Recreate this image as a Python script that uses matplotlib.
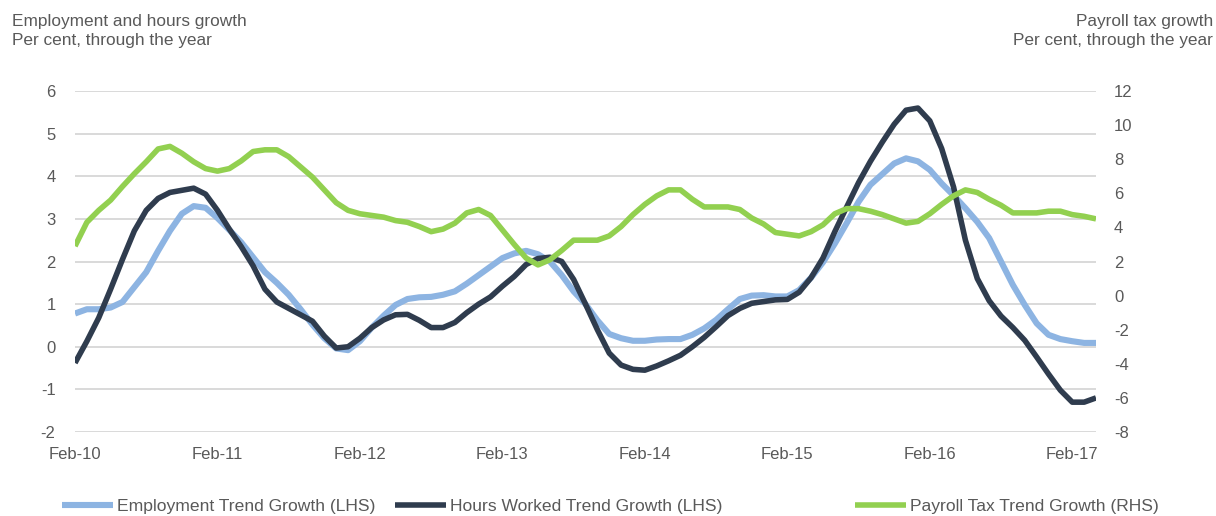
import numpy as np
import matplotlib
matplotlib.use("Agg")
import matplotlib.pyplot as plt

# monthly data, Feb-10 .. Apr-17
tick_labels = ["Feb-10", "Feb-11", "Feb-12", "Feb-13", "Feb-14", "Feb-15", "Feb-16", "Feb-17"]

employment = [0.78, 0.88, 0.88, 0.92, 1.05, 1.40, 1.75, 2.25, 2.72, 3.12, 3.30, 3.26,
              3.02, 2.74, 2.45, 2.10, 1.75, 1.50, 1.22, 0.88, 0.52, 0.20, -0.04, -0.08,
              0.13, 0.45, 0.73, 0.98, 1.12, 1.16, 1.17, 1.22, 1.30, 1.48, 1.68, 1.88,
              2.08, 2.19, 2.25, 2.17, 2.00, 1.68, 1.30, 1.00, 0.62, 0.30, 0.20, 0.14,
              0.14, 0.17, 0.18, 0.18, 0.28, 0.43, 0.63, 0.88, 1.12, 1.20, 1.21, 1.18,
              1.18, 1.33, 1.62, 1.98, 2.42, 2.90, 3.40, 3.80, 4.05, 4.30, 4.42, 4.35,
              4.15, 3.83, 3.55, 3.25, 2.93, 2.55, 2.00, 1.45, 0.98, 0.55, 0.28, 0.18,
              0.13, 0.09, 0.09]

hours = [-0.38, 0.13, 0.68, 1.35, 2.05, 2.72, 3.20, 3.48, 3.62, 3.67, 3.72, 3.58,
         3.20, 2.76, 2.35, 1.90, 1.35, 1.05, 0.90, 0.75, 0.60, 0.25, -0.03, 0.00,
         0.20, 0.45, 0.63, 0.75, 0.76, 0.62, 0.45, 0.45, 0.57, 0.80, 1.00, 1.17,
         1.42, 1.65, 1.93, 2.07, 2.10, 2.00, 1.58, 1.00, 0.40, -0.15, -0.43, -0.53,
         -0.55, -0.45, -0.33, -0.20, 0.00, 0.22, 0.47, 0.73, 0.90, 1.02, 1.06, 1.10,
         1.11, 1.28, 1.62, 2.08, 2.70, 3.28, 3.85, 4.35, 4.80, 5.22, 5.55, 5.60,
         5.30, 4.65, 3.75, 2.50, 1.60, 1.08, 0.72, 0.45, 0.15, -0.24, -0.64, -1.02,
         -1.30, -1.30, -1.20]

payroll = [2.90, 4.30, 5.00, 5.60, 6.40, 7.15, 7.85, 8.60, 8.75, 8.35, 7.85, 7.45,
           7.30, 7.45, 7.90, 8.45, 8.55, 8.55, 8.15, 7.55, 6.95, 6.20, 5.45, 5.00,
           4.80, 4.70, 4.60, 4.40, 4.30, 4.05, 3.75, 3.90, 4.25, 4.85, 5.05, 4.70,
           3.85, 3.00, 2.20, 1.80, 2.10, 2.65, 3.25, 3.25, 3.25, 3.50, 4.05, 4.75,
           5.35, 5.85, 6.20, 6.20, 5.65, 5.20, 5.20, 5.20, 5.05, 4.55, 4.20, 3.70,
           3.60, 3.50, 3.75, 4.15, 4.80, 5.10, 5.10, 4.95, 4.75, 4.50, 4.25, 4.35,
           4.80, 5.35, 5.85, 6.20, 6.05, 5.65, 5.30, 4.85, 4.85, 4.85, 4.95, 4.95,
           4.75, 4.65, 4.50]

TEXT = "#595959"
plt.rcParams["font.family"] = ["Liberation Sans", "DejaVu Sans"]
plt.rcParams["axes.unicode_minus"] = False

fig = plt.figure(figsize=(12.16, 5.16), dpi=100)
ax = fig.add_axes([75 / 1216, 1 - 432 / 516, (1096 - 75) / 1216, (432 - 91) / 516])
ax2 = ax.twinx()

x = np.arange(len(employment))
l1, = ax.plot(x, employment, color="#8DB4E2", lw=4.4, solid_capstyle="butt", zorder=3)
l2, = ax.plot(x, hours, color="#2F3C4E", lw=4.0, solid_capstyle="butt", zorder=4)
l3, = ax2.plot(x, payroll, color="#92D050", lw=4.0, solid_capstyle="butt", zorder=3)

ax.set_xlim(0, len(x) - 1)
ax.set_ylim(-2, 6)
ax2.set_ylim(-8, 12)
ax.set_yticks(range(-2, 7))
ax2.set_yticks(range(-8, 13, 2))
ax.set_xticks(range(0, 85, 12))
ax.set_xticklabels(tick_labels)

ax.grid(axis="y", color="#D9D9D9", lw=1.4)
ax.set_axisbelow(True)
for a in (ax, ax2):
    for s in a.spines.values():
        s.set_visible(False)
ax.tick_params(axis="both", length=0, labelsize=12, labelcolor=TEXT)
ax.tick_params(axis="y", pad=14)
ax.tick_params(axis="x", pad=11)
ax2.tick_params(axis="y", length=0, labelsize=12, labelcolor=TEXT, pad=13)

fig.text(12 / 1216, 1 - 14 / 516, "Employment and hours growth\nPer cent, through the year",
         ha="left", va="top", fontsize=12.4, color=TEXT, linespacing=1.3)
fig.text(1213 / 1216, 1 - 14 / 516, "Payroll tax growth\nPer cent, through the year",
         ha="right", va="top", fontsize=12.4, color=TEXT, linespacing=1.3, multialignment="right")

names = ["Employment Trend Growth (LHS)", "Hours Worked Trend Growth (LHS)",
         "Payroll Tax Trend Growth (RHS)"]
starts = [62, 395, 855]
for h, name, sx in zip([l1, l2, l3], names, starts):
    fig.legend(handles=[h], labels=[name], loc="center left",
               bbox_to_anchor=(sx / 1216, 1 - 506 / 516), frameon=False,
               fontsize=12.6, labelcolor=TEXT, handlelength=2.9, handletextpad=0.25,
               borderpad=0, borderaxespad=0)

fig.savefig("out.png", dpi=100, facecolor="white")
